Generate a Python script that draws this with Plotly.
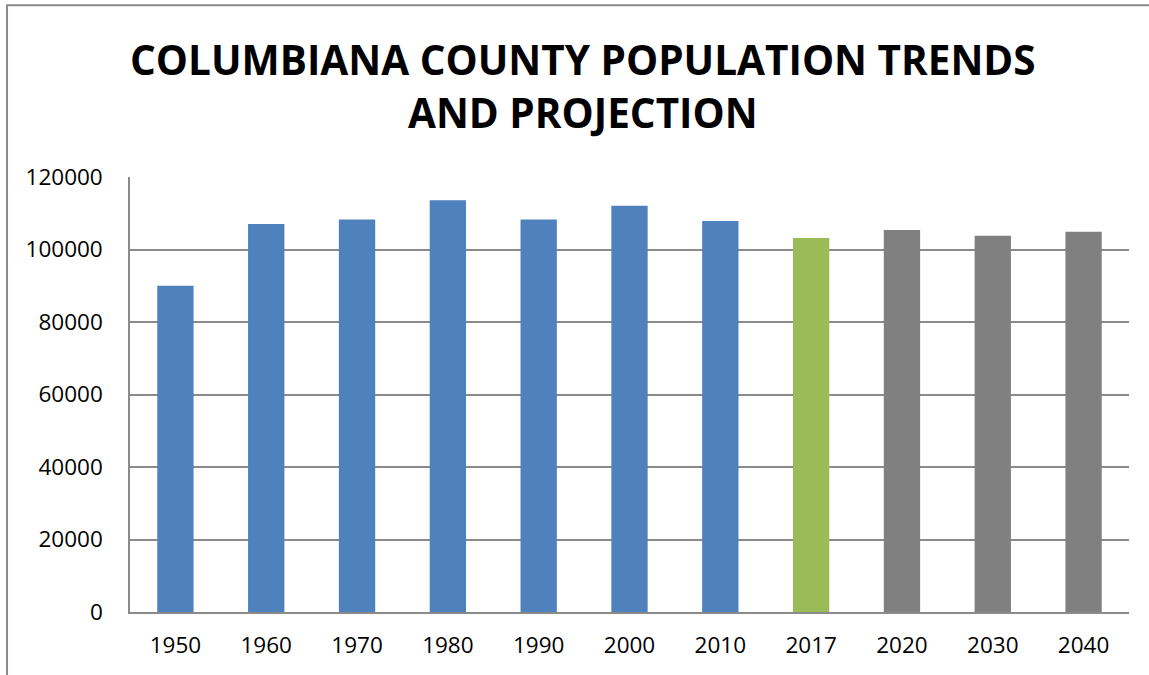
import plotly.graph_objects as go

years = ["1950", "1960", "1970", "1980", "1990", "2000", "2010", "2017", "2020", "2030", "2040"]
population = [90000, 107004, 108310, 113572, 108276, 112075, 107841, 103200, 105400, 103800, 104900]
bar_colors = ["#4F81BD"] * 7 + ["#9BBB59"] + ["#808080"] * 3
y_ticks = [0, 20000, 40000, 60000, 80000, 100000, 120000]
title_text = "<b>COLUMBIANA COUNTY POPULATION TRENDS<br>AND PROJECTION</b>"

fig = go.Figure(
    go.Bar(
        x=years,
        y=population,
        marker=dict(color=bar_colors, line=dict(width=0)),
        hoverinfo="x+y",
    )
)

fig.update_layout(
    width=1149,
    height=675,
    margin=dict(l=130, r=20, t=177, b=63),
    paper_bgcolor="white",
    plot_bgcolor="white",
    bargap=0.6,
    showlegend=False,
    font=dict(family="Open Sans", color="black"),
)

fig.add_annotation(
    text=title_text,
    xref="paper",
    yref="paper",
    x=0.453,
    y=1.21,
    xanchor="center",
    yanchor="middle",
    showarrow=False,
    align="center",
    font=dict(family="Open Sans", size=40.5, color="black"),
)

fig.update_yaxes(
    range=[0, 120000],
    tickvals=y_ticks,
    ticktext=[str(v) for v in y_ticks],
    showgrid=True,
    gridcolor="#8a8a8a",
    gridwidth=1.5,
    showline=True,
    linecolor="#8a8a8a",
    linewidth=1.5,
    zeroline=False,
    ticks="",
    ticklabelstandoff=21,
    tickfont=dict(size=22.5, color="black"),
)
fig.update_xaxes(
    showline=True,
    linecolor="#8a8a8a",
    linewidth=1.5,
    showgrid=False,
    ticks="",
    ticklabelstandoff=12,
    tickfont=dict(size=22.5, color="black"),
)

fig.add_shape(
    type="rect",
    xref="paper",
    yref="paper",
    x0=-0.1231,
    x1=1.2,
    y0=-0.3,
    y1=1.395,
    line=dict(color="#8a8a8a", width=2),
    fillcolor="rgba(0,0,0,0)",
    layer="below",
)

fig.write_html("out.html")
